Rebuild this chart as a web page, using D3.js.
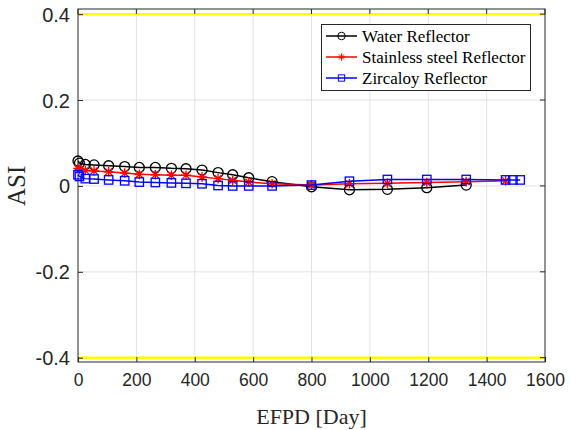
<!DOCTYPE html>
<html><head><meta charset="utf-8">
<script src="https://cdn.jsdelivr.net/npm/d3@7"></script>
<style>body{margin:0;background:#fff}svg{display:block}</style>
</head><body>
<svg id="c" width="571" height="430"></svg>
<script>
const xTicks = [0, 200, 400, 600, 800, 1000, 1200, 1400, 1600];
const yTicks = [-0.4, -0.2, 0, 0.2, 0.4];
const limitLines = [0.4, -0.4];

const waterDays = [0, 5, 25, 55, 105, 160, 210, 265, 320, 370, 425, 480, 530, 585, 665, 800, 930, 1060, 1195, 1330];
const waterASI  = [0.058, 0.053, 0.050, 0.049, 0.047, 0.045, 0.043, 0.043, 0.041, 0.040, 0.037, 0.031, 0.026, 0.019, 0.010, -0.002, -0.009, -0.008, -0.004, 0.002];

const steelDays = [0, 5, 25, 55, 105, 160, 210, 265, 320, 370, 425, 480, 530, 585, 665, 800, 930, 1060, 1195, 1330, 1465];
const steelASI  = [0.041, 0.038, 0.036, 0.035, 0.033, 0.030, 0.027, 0.026, 0.025, 0.025, 0.021, 0.017, 0.013, 0.009, 0.005, 0.002, 0.005, 0.006, 0.008, 0.010, 0.012];

const zircDays = [0, 5, 25, 55, 105, 160, 210, 265, 320, 370, 425, 480, 530, 585, 665, 800, 930, 1060, 1195, 1330, 1465, 1490, 1515];
const zircASI  = [0.026, 0.022, 0.017, 0.016, 0.014, 0.012, 0.009, 0.008, 0.007, 0.006, 0.005, 0.001, 0.000, 0.000, 0.000, 0.002, 0.011, 0.015, 0.015, 0.015, 0.014, 0.014, 0.014];

const seriesNames = ["Water Reflector", "Stainless steel Reflector", "Zircaloy Reflector"];
const seriesColors = ["#000000", "#ff0000", "#0000ff"];
const seriesMarkers = ["circle", "star", "square"];

const svg = d3.select("#c");
const L = 78, R = 545, T = 9, B = 362;
const x = d3.scaleLinear().domain([0, 1600]).range([L, R]);
const y = d3.scaleLinear().domain([-0.41, 0.412]).range([B, T]);

// grid
const g = svg.append("g");
g.selectAll(".gx").data(xTicks.slice(1, -1)).join("line")
  .attr("x1", d => x(d)).attr("x2", d => x(d)).attr("y1", T).attr("y2", B)
  .attr("stroke", "#e3e3e3").attr("stroke-width", 1);
g.selectAll(".gy").data(yTicks).join("line")
  .attr("y1", d => y(d)).attr("y2", d => y(d)).attr("x1", L).attr("x2", R)
  .attr("stroke", "#e3e3e3").attr("stroke-width", 1);

// limit lines
g.selectAll(".lim").data(limitLines).join("line")
  .attr("x1", L).attr("x2", R).attr("y1", d => y(d)).attr("y2", d => y(d))
  .attr("stroke", "#ffff00").attr("stroke-width", 2.5);

// axes
const yFmt = d => d === 0 ? "0" : d3.format(".1f")(d).replace("\u2212", "-");
const xAxis = d3.axisBottom(x).tickValues(xTicks).tickSize(-5).tickPadding(12).tickFormat(d3.format("d"));
const yAxis = d3.axisLeft(y).tickValues(yTicks).tickSize(-5).tickPadding(8).tickFormat(yFmt);
const gx = svg.append("g").attr("transform", `translate(0,${B})`).call(xAxis);
const gy = svg.append("g").attr("transform", `translate(${L},0)`).call(yAxis);
[gx, gy].forEach(a => {
  a.select(".domain").remove();
  a.selectAll(".tick line").attr("stroke", "#262626");
  a.selectAll("text").attr("fill", "#262626").attr("font-family", "Liberation Sans, Arial, sans-serif");
});
gx.selectAll("text").attr("font-size", 17.5);
gy.selectAll("text").attr("font-size", 20).attr("dy", "0.35em");
// top/right ticks
svg.append("g").selectAll("line").data(xTicks).join("line")
  .attr("x1", d => x(d)).attr("x2", d => x(d)).attr("y1", T).attr("y2", T + 5).attr("stroke", "#262626");
svg.append("g").selectAll("line").data(yTicks).join("line")
  .attr("y1", d => y(d)).attr("y2", d => y(d)).attr("x1", R).attr("x2", R - 5).attr("stroke", "#262626");
svg.append("rect").attr("x", L).attr("y", T).attr("width", R - L).attr("height", B - T)
  .attr("fill", "none").attr("stroke", "#262626").attr("stroke-width", 1);

// series
const series = [
  {days: waterDays, vals: waterASI},
  {days: steelDays, vals: steelASI},
  {days: zircDays, vals: zircASI}
];
const line = d3.line().x(d => x(d[0])).y(d => y(d[1]));

function marker(sel, type, color) {
  if (type === "circle") {
    sel.append("circle").attr("r", 5).attr("fill", "none").attr("stroke", color).attr("stroke-width", 1.3);
  } else if (type === "square") {
    sel.append("rect").attr("x", -4.2).attr("y", -4.2).attr("width", 8.4).attr("height", 8.4)
      .attr("fill", "none").attr("stroke", color).attr("stroke-width", 1.3);
  } else {
    const s = 4.8, k = s * 0.707;
    sel.append("path").attr("d", `M${-s},0L${s},0M0,${-s}L0,${s}M${-k},${-k}L${k},${k}M${-k},${k}L${k},${-k}`)
      .attr("stroke", color).attr("stroke-width", 1.3).attr("fill", "none");
  }
}

series.forEach((s, i) => {
  const pts = s.days.map((d, j) => [d, s.vals[j]]);
  svg.append("path").datum(pts).attr("d", line).attr("fill", "none")
    .attr("stroke", seriesColors[i]).attr("stroke-width", 1.5);
  svg.append("g").selectAll("g").data(pts).join("g")
    .attr("transform", d => `translate(${x(d[0])},${y(d[1])})`)
    .each(function() { marker(d3.select(this), seriesMarkers[i], seriesColors[i]); });
});

// legend
const lg = svg.append("g");
lg.append("rect").attr("x", 321.5).attr("y", 24.5).attr("width", 209).attr("height", 66)
  .attr("fill", "#fff").attr("stroke", "#262626").attr("stroke-width", 1);
seriesNames.forEach((n, i) => {
  const yy = 36 + i * 21;
  lg.append("line").attr("x1", 326).attr("x2", 357).attr("y1", yy).attr("y2", yy)
    .attr("stroke", seriesColors[i]).attr("stroke-width", 1.5);
  const m = lg.append("g").attr("transform", `translate(341.5,${yy})`);
  marker(m, seriesMarkers[i], seriesColors[i]);
  m.selectAll("*").attr("transform", "scale(0.75)");
  lg.append("text").attr("x", 362).attr("y", yy).attr("dy", "0.33em")
    .attr("font-family", "Liberation Serif, Times New Roman, serif").attr("font-size", 17)
    .attr("fill", "#000").text(n);
});

// axis titles
svg.append("text").attr("x", (L + R) / 2).attr("y", 424).attr("text-anchor", "middle")
  .attr("font-family", "Liberation Serif, Times New Roman, serif").attr("font-size", 22)
  .attr("fill", "#262626").text("EFPD [Day]");
svg.append("text").attr("transform", `translate(25,${y(0)}) rotate(-90)`).attr("text-anchor", "middle")
  .attr("font-family", "Liberation Serif, Times New Roman, serif").attr("font-size", 25)
  .attr("fill", "#262626").text("ASI");
</script>
</body></html>
